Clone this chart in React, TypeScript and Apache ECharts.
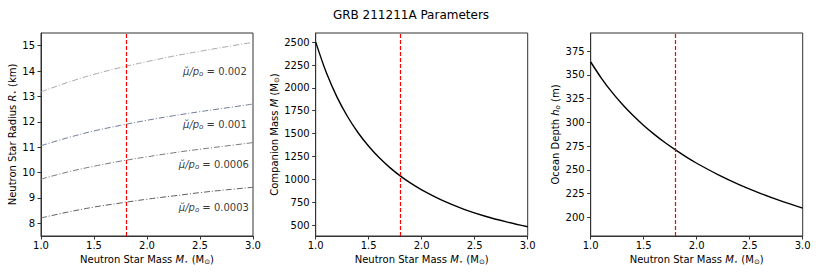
import React, { useEffect, useRef } from "react";
import * as echarts from "echarts";

// ---------- data ----------
const massCoarse = [1.0, 1.25, 1.5, 1.75, 2.0, 2.25, 2.5, 2.75, 3.0];
const radius0002 = [13.18, 13.55, 13.87, 14.14, 14.37, 14.59, 14.78, 14.96, 15.13];
const radius0001 = [11.06, 11.37, 11.64, 11.86, 12.06, 12.24, 12.4, 12.55, 12.7];
const radius00006 = [9.74, 10.02, 10.25, 10.45, 10.62, 10.78, 10.92, 11.05, 11.18];
const radius00003 = [8.21, 8.44, 8.64, 8.8, 8.95, 9.08, 9.21, 9.32, 9.42];

const massFine = [1.0, 1.1, 1.2, 1.3, 1.4, 1.5, 1.6, 1.7, 1.8, 1.9, 2.0, 2.2, 2.4, 2.6, 2.8, 3.0];
const companionMass = [2500, 2167, 1902, 1687, 1509, 1361, 1235, 1128, 1035, 955, 884, 766, 672, 596, 534, 481];
const oceanDepth = [363.5, 346.6, 331.8, 318.8, 307.2, 296.8, 287.4, 278.8, 271.0, 263.7, 257.0, 245.1, 234.6, 225.4, 217.2, 209.9];

const refMass = 1.8;

const radiusTicks = [8, 9, 10, 11, 12, 13, 14, 15];
const companionTicks = [500, 750, 1000, 1250, 1500, 1750, 2000, 2250, 2500];
const depthTicks = [200, 225, 250, 275, 300, 325, 350, 375];

const annotLabels = ["0.002", "0.001", "0.0006", "0.0003"];
const annotX = [2.34, 2.34, 2.3, 2.3];
const annotY = [14.0, 11.91, 10.3, 8.64];

const radiusColors = ["#a9a9a9", "#6e7c96", "#7a7a7a", "#5f5f5f"];

// ---------- styling ----------
const FONT = "DejaVu Sans";
const AX = "#333333";
const GRID_TOP = 33;
const GRID_H = 203;
const GRID_W = 212;
const GRID_LEFTS = [41, 315.7, 590.7];

const rich = {
  n: { fontFamily: FONT, fontSize: 10, color: "#000", lineHeight: 12 },
  i: { fontFamily: FONT, fontSize: 10, fontStyle: "italic", color: "#000", lineHeight: 12 },
  s: { fontFamily: FONT, fontSize: 7, color: "#000", verticalAlign: "bottom", lineHeight: 12, padding: [3, 0, 0, 0] },
  si: { fontFamily: FONT, fontSize: 7, fontStyle: "italic", color: "#000", verticalAlign: "bottom", lineHeight: 12, padding: [3, 0, 0, 0] },
};

const massName = "{n|Neutron Star Mass }{i|M}{s|⋆}{n| (M}{s|⊙}{n|)}";

function xAxis(gridIndex: number) {
  return {
    type: "value",
    gridIndex,
    min: 1,
    max: 3,
    interval: 0.5,
    name: massName,
    nameLocation: "middle",
    nameGap: 12,
    nameTextStyle: { rich },
    axisLine: { show: true, lineStyle: { color: AX, width: 1 } },
    axisTick: { show: true, length: 3.5, lineStyle: { color: AX } },
    axisLabel: {
      fontFamily: FONT,
      fontSize: 10,
      color: "#000",
      margin: 4,
      formatter: (v: number) => v.toFixed(1),
    },
    splitLine: { show: false },
  };
}

function yAxis(gridIndex: number, min: number, max: number, ticks: number[], name: string, gap: number) {
  return {
    type: "value",
    gridIndex,
    min,
    max,
    name,
    nameLocation: "middle",
    nameGap: gap,
    nameTextStyle: { rich },
    axisLine: { show: true, lineStyle: { color: AX, width: 1 } },
    axisTick: { show: true, length: 3.5, lineStyle: { color: AX }, customValues: ticks },
    axisLabel: {
      fontFamily: FONT,
      fontSize: 10,
      color: "#000",
      margin: 6,
      customValues: ticks,
      formatter: (v: number) => String(v),
    },
    splitLine: { show: false },
  };
}

function refLine() {
  return {
    silent: true,
    symbol: "none",
    label: { show: false },
    lineStyle: { color: "#ff0000", type: [4, 2], width: 1.2 },
    data: [{ xAxis: refMass }],
  };
}

function pairs(xs: number[], ys: number[]) {
  return xs.map((x, i) => [x, ys[i]]);
}

export default function App() {
  const ref = useRef<HTMLDivElement>(null);
  useEffect(() => {
    if (!ref.current) return;
    const chart = echarts.init(ref.current, undefined, { renderer: "svg" });
    const radiusSeries = [radius0002, radius0001, radius00006, radius00003].map((ys, k) => ({
      type: "line",
      xAxisIndex: 0,
      yAxisIndex: 0,
      data: pairs(massCoarse, ys),
      smooth: 0.4,
      showSymbol: false,
      lineStyle: { color: radiusColors[k], width: 1, type: [6, 2, 1, 2] },
      z: 3,
    }));
    chart.setOption({
      animation: false,
      backgroundColor: "#ffffff",
      textStyle: { fontFamily: FONT },
      title: {
        text: "GRB 211211A Parameters",
        left: "center",
        top: 4,
        textStyle: { fontFamily: FONT, fontSize: 12, fontWeight: "normal", color: "#000" },
      },
      grid: GRID_LEFTS.map((l) => ({
        left: l,
        top: GRID_TOP,
        width: GRID_W,
        height: GRID_H,
        show: true,
        borderColor: AX,
        borderWidth: 1,
        backgroundColor: "transparent",
      })),
      xAxis: [xAxis(0), xAxis(1), xAxis(2)],
      yAxis: [
        yAxis(0, 7.5, 15.5, radiusTicks, "{n|Neutron Star Radius }{i|R}{s|⋆}{n| (km)}", 18),
        yAxis(1, 380, 2600, companionTicks, "{n|Companion Mass }{i|M}{n| (M}{s|⊙}{n|)}", 31),
        yAxis(2, 180.5, 394, depthTicks, "{n|Ocean Depth }{i|h}{si|o}{n| (m)}", 25),
      ],
      series: [
        ...radiusSeries,
        {
          type: "line",
          xAxisIndex: 0,
          yAxisIndex: 0,
          data: [],
          markLine: refLine(),
        },
        {
          type: "scatter",
          xAxisIndex: 0,
          yAxisIndex: 0,
          symbolSize: 0,
          data: annotX.map((x, i) => ({ value: [x, annotY[i]], name: annotLabels[i] })),
          label: {
            show: true,
            position: "right",
            distance: 0,
            formatter: (p: any) => "{i|μ̆/p}{si|o}{n| = " + p.name + "}",
            rich,
          },
          silent: true,
        },
        {
          type: "line",
          xAxisIndex: 1,
          yAxisIndex: 1,
          data: pairs(massFine, companionMass),
          smooth: 0.3,
          showSymbol: false,
          lineStyle: { color: "#000", width: 1.4 },
          markLine: refLine(),
        },
        {
          type: "line",
          xAxisIndex: 2,
          yAxisIndex: 2,
          data: pairs(massFine, oceanDepth),
          smooth: 0.3,
          showSymbol: false,
          lineStyle: { color: "#000", width: 1.4 },
          markLine: refLine(),
        },
      ],
    });
    return () => chart.dispose();
  }, []);
  return <div ref={ref} style={{ width: 822, height: 274, position: "absolute", left: 0, top: 0 }} />;
}
